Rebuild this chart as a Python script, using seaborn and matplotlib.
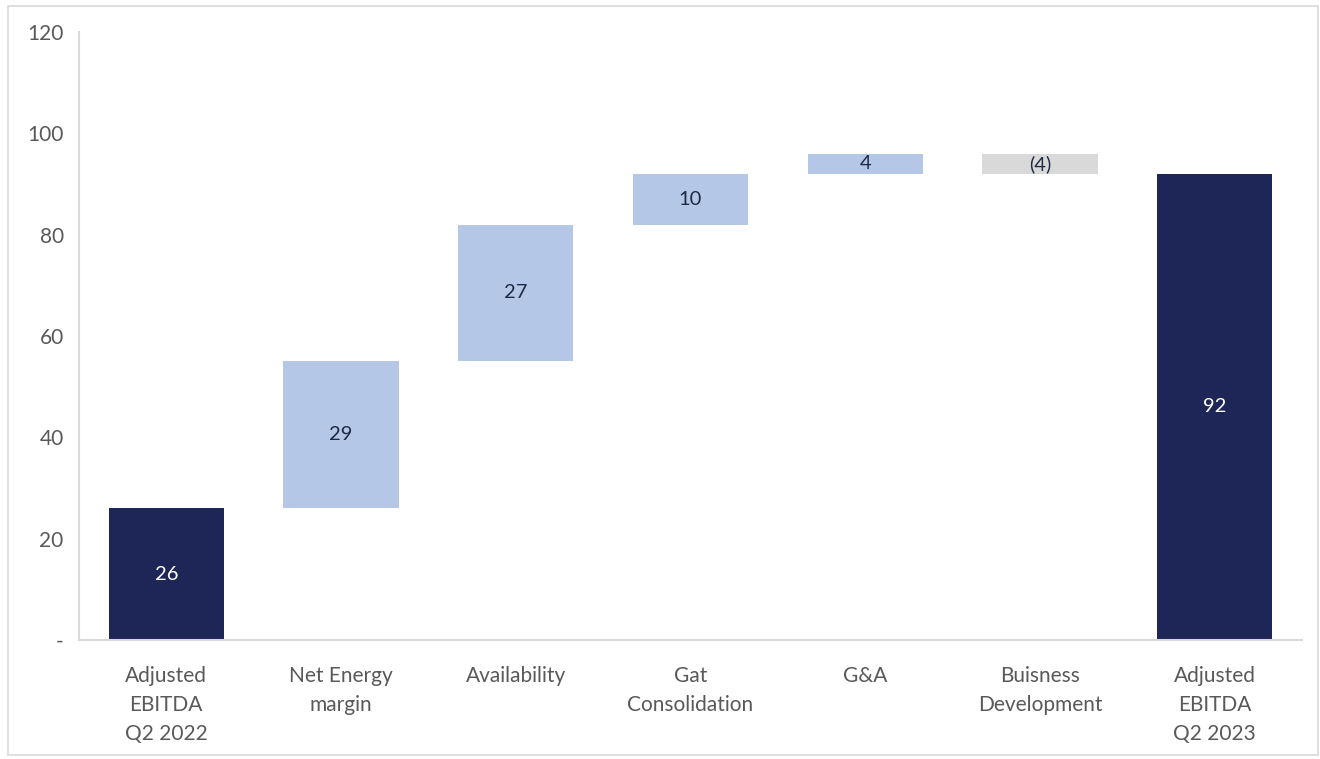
import matplotlib
matplotlib.use("Agg")
import matplotlib.pyplot as plt
from matplotlib.patches import Rectangle
import seaborn as sns
import numpy as np

# Waterfall data: adjusted EBITDA bridge
categories = ["Adjusted\nEBITDA\nQ2 2022", "Net Energy\nmargin", "Availability",
              "Gat\nConsolidation", "G&A", "Buisness\nDevelopment",
              "Adjusted\nEBITDA\nQ2 2023"]
changes = [26, 29, 27, 10, 4, -4, 92]
value_labels = ["26", "29", "27", "10", "4", "(4)", "92"]
kinds = ["total", "up", "up", "up", "up", "down", "total"]

# Bar bases and heights for the waterfall
bases, heights = [], []
running = 0
for val, kind in zip(changes, kinds):
    if kind == "total":
        bases.append(0)
        heights.append(val)
        running = val
    elif val >= 0:
        bases.append(running)
        heights.append(val)
        running += val
    else:
        running += val
        bases.append(running)
        heights.append(-val)

palette = {"total": "#1e2657", "up": "#b4c7e7", "down": "#d9d9d9"}
text_colors = {"total": "white", "up": "#1f2a44", "down": "#1f2a44"}

sns.set_theme(style="white")
plt.rcParams["font.family"] = ["Lato", "DejaVu Sans"]

fig = plt.figure(figsize=(13.2, 7.59), dpi=100)
ax = fig.add_axes([0.0598, 0.1568, 0.9266, 0.801])

sns.barplot(x=categories, y=heights, bottom=bases, order=categories,
            color=palette["up"], saturation=1, width=0.66, ax=ax,
            edgecolor="none", linewidth=0)
for patch, kind in zip(ax.patches, kinds):
    patch.set_facecolor(palette[kind])

for i, (b, h, lab, kind) in enumerate(zip(bases, heights, value_labels, kinds)):
    ax.text(i, b + h / 2, lab, ha="center", va="center", fontsize=14.5,
            color=text_colors[kind])

ax.set_xlim(-0.5, 6.5)
ax.set_ylim(0, 120)
yt = [0, 20, 40, 60, 80, 100, 120]
ax.set_yticks(yt)
ax.set_yticklabels(["-"] + [str(v) for v in yt[1:]])
ax.tick_params(axis="y", length=0, pad=11, labelsize=15, labelcolor="#595959")
ax.tick_params(axis="x", length=0, pad=19, labelsize=15, labelcolor="#595959")
for lbl in ax.get_xticklabels():
    lbl.set_linespacing(1.55)
    lbl.set_va("top")

for side in ["top", "right"]:
    ax.spines[side].set_visible(False)
for side in ["left", "bottom"]:
    ax.spines[side].set_color("#d9d9d9")
    ax.spines[side].set_linewidth(1.5)

# Light frame around the chart area
fig.patches.append(Rectangle((8 / 1320, 4 / 759), 1310 / 1320, 749 / 759,
                             transform=fig.transFigure, fill=False,
                             edgecolor="#d9d9d9", linewidth=1.2))

fig.savefig("out.png", dpi=100)
